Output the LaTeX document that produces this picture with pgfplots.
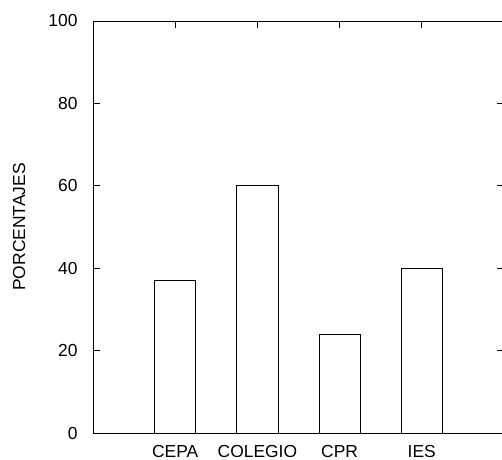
\documentclass[border=0pt]{standalone}
\usepackage{pgfplots}
\pgfplotsset{compat=1.18}
\usepackage{fontspec}
\setmainfont{Liberation Sans}
\begin{document}
\begin{tikzpicture}
\begin{axis}[
  at={(0,0)}, anchor=south west,
  scale only axis, width=411bp, height=412bp,
  xmin=0, xmax=5, ymin=0, ymax=100,
  xtick={1,2,3,4}, xticklabels={CEPA,COLEGIO,CPR,IES},
  ytick={0,20,40,60,80,100},
  tick align=inside,
  major tick length=7bp,
  axis line style={black, line width=0.9pt},
  tick style={black, line width=0.9pt},
  every tick label/.append style={font=\fontsize{17.5}{20}\selectfont},
  /pgf/number format/assume math mode=true,
  yticklabel style={xshift=-12bp},
  xticklabel style={yshift=-9bp},
  ylabel={PORCENTAJES},
  ylabel style={font=\fontsize{17.5}{20}\selectfont, at={(axis description cs:-0.18,0.5)}, anchor=center},
  clip=false,
]
\addplot[ybar, bar width=0.5, fill=white, draw=black, line width=0.9pt] coordinates {(1,37) (2,60) (3,24) (4,40)};
\end{axis}
\pgfresetboundingbox
\path (-93bp,-27bp) rectangle (409bp,433bp);
\end{tikzpicture}
\end{document}
